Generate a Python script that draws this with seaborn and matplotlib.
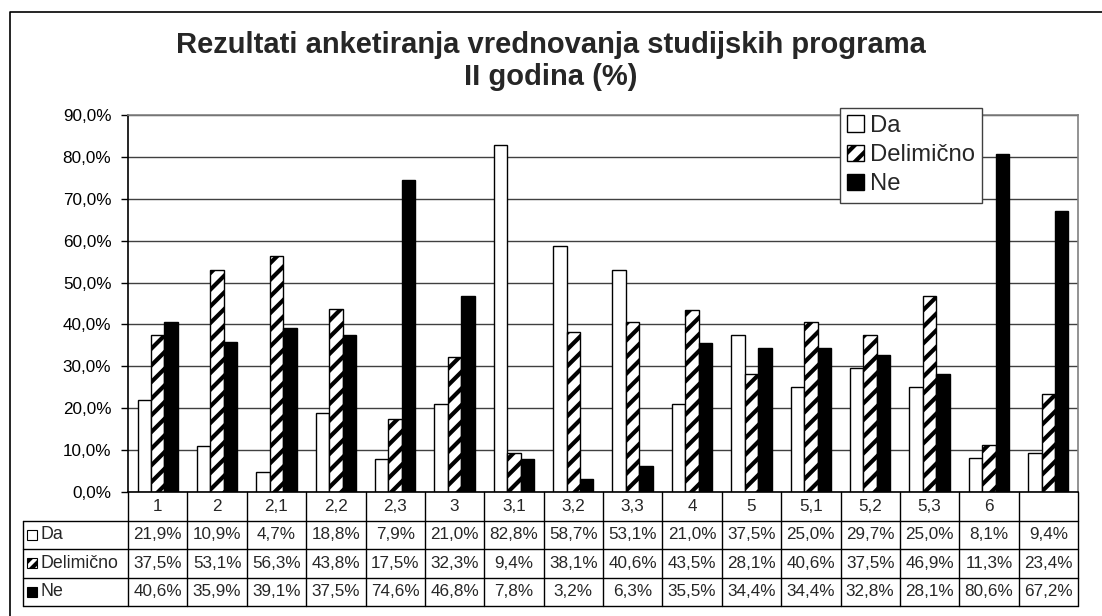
import numpy as np
import pandas as pd
import matplotlib
matplotlib.use("Agg")
import matplotlib.pyplot as plt
from matplotlib.lines import Line2D
from matplotlib.patches import Rectangle
import seaborn as sns

# ---- data ----
categories = ["1", "2", "2,1", "2,2", "2,3", "3", "3,1", "3,2", "3,3", "4",
              "5", "5,1", "5,2", "5,3", "6", ""]
series = ["Da", "Delimično", "Ne"]
da = [21.9, 10.9, 4.7, 18.8, 7.9, 21.0, 82.8, 58.7, 53.1, 21.0, 37.5, 25.0, 29.7, 25.0, 8.1, 9.4]
delimicno = [37.5, 53.1, 56.3, 43.8, 17.5, 32.3, 9.4, 38.1, 40.6, 43.5, 28.1, 40.6, 37.5, 46.9, 11.3, 23.4]
ne = [40.6, 35.9, 39.1, 37.5, 74.6, 46.8, 7.8, 3.2, 6.3, 35.5, 34.4, 34.4, 32.8, 28.1, 80.6, 67.2]
yticks = [0, 10, 20, 30, 40, 50, 60, 70, 80, 90]
title = "Rezultati anketiranja vrednovanja studijskih programa\nII godina (%)"

values = {"Da": da, "Delimično": delimicno, "Ne": ne}
df = pd.DataFrame({
    "cat": categories * 3,
    "serija": sum([[s] * len(categories) for s in series], []),
    "v": da + delimicno + ne,
})

sns.set_theme(style="white")
plt.rcParams["font.family"] = ["Liberation Sans", "DejaVu Sans"]
plt.rcParams["hatch.linewidth"] = 3.0

W, H = 1102, 616
fig = plt.figure(figsize=(W / 100, H / 100), dpi=100)
fig.patch.set_facecolor("white")

def fx(px):
    return px / W

def fy(py):
    return 1 - py / H

# outer frame (left and top visible)
fig.add_artist(Line2D([fx(10), fx(10), fx(1102)], [fy(616), fy(12), fy(12)],
                      transform=fig.transFigure, color="black", lw=1.2))

# main axes
L, R, T, B = 128, 1078, 115, 492
ax = fig.add_axes([fx(L), fy(B), fx(R - L), (B - T) / H])
palette = {"Da": "white", "Delimično": "white", "Ne": "black"}
sns.barplot(data=df, x="cat", y="v", hue="serija", order=categories,
            hue_order=series, palette=palette, edgecolor="black", linewidth=1,
            width=0.68, ax=ax, legend=False, saturation=1)
for p in ax.containers[1].patches:
    p.set_hatch("//")

FS = 12.3
ax.set_ylim(0, 90)
ax.set_xlim(-0.5, len(categories) - 0.5)
ax.set_yticks(yticks)
ax.set_yticklabels([f"{v:.1f}%".replace(".", ",") for v in yticks], fontsize=FS)
ax.set_xticks([])
ax.set_xlabel("")
ax.set_ylabel("")
ax.yaxis.grid(True, color="#404040", lw=1)
ax.set_axisbelow(True)
ax.tick_params(axis="y", left=True, length=5, width=1, pad=7, color="black", labelcolor="black")
for s in ["left", "bottom"]:
    ax.spines[s].set_color("black")
    ax.spines[s].set_linewidth(1.2)
for s in ["top", "right"]:
    ax.spines[s].set_color("#808080")
    ax.spines[s].set_linewidth(1.2)

# legend
handles = [ax.containers[i].patches[0] for i in range(3)]
leg = ax.legend(handles, series, loc="upper left",
                bbox_to_anchor=(fx(840), fy(108)), bbox_transform=fig.transFigure,
                fontsize=17.2, frameon=True, fancybox=False, framealpha=1,
                edgecolor="#404040", handlelength=0.7, handleheight=0.7,
                handletextpad=0.25, borderpad=0.3, labelspacing=0.3,
                borderaxespad=0)
leg.get_frame().set_linewidth(1)

# title
lines = title.split("\n")
fig.text(0.5, fy(45), lines[0], ha="center", va="center", fontsize=21, fontweight="bold")
fig.text(0.5, fy(77), lines[1], ha="center", va="center", fontsize=21, fontweight="bold")

# data table under the axis
TL, TB = 23, 606
unit = (R - L) / len(categories)
x_left = -0.5 - (L - TL) / unit
tax = fig.add_axes([fx(TL), fy(TB), fx(R - TL), (TB - B) / H])
tax.set_xlim(x_left, len(categories) - 0.5)
tax.set_ylim(4, 0)
tax.axis("off")
n = len(categories)
lc = dict(color="black", lw=1, clip_on=False)
for i in range(n + 1):
    tax.plot([i - 0.5, i - 0.5], [0, 4], **lc)
tax.plot([x_left, x_left], [1, 4], **lc)
for r in [1, 2, 3, 4]:
    tax.plot([x_left, n - 0.5], [r, r], **lc)
for i, c in enumerate(categories):
    tax.text(i, 0.5, c, ha="center", va="center", fontsize=FS)
icon_w = 10 / unit
icon_h = 10 / ((TB - B) / 4)
for r, s in enumerate(series, start=1):
    for i, v in enumerate(values[s]):
        tax.text(i, r + 0.5, f"{v:.1f}%".replace(".", ","), ha="center", va="center", fontsize=FS)
    fc = "black" if s == "Ne" else "white"
    rect = Rectangle((x_left + 4 / unit, r + 0.5 - icon_h / 2), icon_w, icon_h,
                     facecolor=fc, edgecolor="black", lw=0.8, clip_on=False,
                     hatch="///" if s == "Delimično" else None)
    tax.add_patch(rect)
    tax.text(x_left + 18 / unit, r + 0.5, s, ha="left", va="center", fontsize=FS + 0.5)

fig.savefig("out.png", dpi=100, facecolor="white")
